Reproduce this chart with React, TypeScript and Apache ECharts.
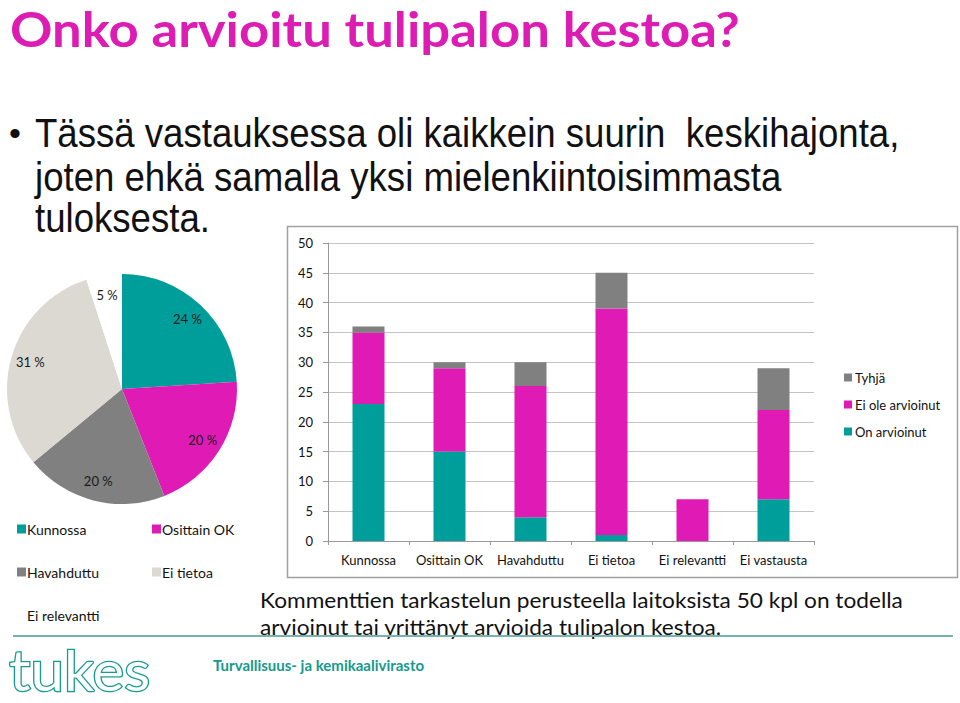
import React, { useEffect, useRef } from "react";
import * as echarts from "echarts";

const barCategories = ["Kunnossa", "Osittain OK", "Havahduttu", "Ei tietoa", "Ei relevantti", "Ei vastausta"];
const onArvioinut = [23, 15, 4, 1, 0, 7];
const eiOleArvioinut = [12, 14, 22, 38, 7, 15];
const tyhja = [1, 1, 4, 6, 0, 7];
const yTicks = { min: 0, max: 50, interval: 5 };

const pieNames = ["Kunnossa", "Osittain OK", "Havahduttu", "Ei tietoa", "Ei relevantti"];
const pieValues = [24, 20, 20, 31, 5];

const TEAL = "#009e9a";
const MAGENTA = "#e01bb5";
const GREY = "#808080";
const LIGHT = "#dcd9d3";
const pieColors = [TEAL, MAGENTA, GREY, LIGHT, "#ffffff"];

const FONT = "Lato, 'Open Sans', sans-serif";
const BODY = "40px 'Liberation Sans', Arial, sans-serif";

export default function App() {
  const ref = useRef<HTMLDivElement>(null);
  useEffect(() => {
    document.body.style.margin = "0";
    const chart = echarts.init(ref.current!, null, { renderer: "svg" });
    const txt = (text: string, x: number, y: number, font: string, fill: string, extra: any = {}) => ({
      type: "text",
      x,
      y,
      silent: true,
      ...extra,
      style: { text, font, fill, align: "left", textAlign: "left", verticalAlign: "middle", textVerticalAlign: "middle", ...(extra.style || {}) },
    });
    chart.setOption({
      animation: false,
      textStyle: { fontFamily: FONT },
      grid: { left: 328, top: 243, width: 486, height: 298, containLabel: false },
      xAxis: {
        type: "category",
        data: barCategories,
        axisLine: { lineStyle: { color: "#999" } },
        axisTick: { show: true, length: 4, lineStyle: { color: "#999" } },
        axisLabel: { color: "#111", fontSize: 13, fontFamily: FONT, margin: 12, interval: 0 },
      },
      yAxis: {
        type: "value",
        min: yTicks.min,
        max: yTicks.max,
        interval: yTicks.interval,
        axisLine: { show: true, lineStyle: { color: "#999" } },
        axisTick: { show: true, length: 5, lineStyle: { color: "#999" } },
        splitLine: { lineStyle: { color: "#c4c4c4" } },
        axisLabel: { color: "#111", fontSize: 13, fontFamily: FONT, margin: 15 },
      },
      legend: [
        {
          orient: "vertical",
          left: 839,
          top: 366,
          itemWidth: 8,
          itemHeight: 8,
          itemGap: 14,
          icon: "rect",
          textStyle: { fontSize: 13, color: "#111", fontFamily: FONT, padding: [0, 0, 0, -2] },
          data: ["Tyhjä", "Ei ole arvioinut", "On arvioinut"],
        },
        {
          orient: "vertical",
          left: 12,
          top: 517,
          itemWidth: 9,
          itemHeight: 9,
          itemGap: 29,
          icon: "rect",
          textStyle: { fontSize: 14, color: "#111", fontFamily: FONT, padding: [0, 0, 0, -4] },
          data: ["Kunnossa", "Havahduttu", "Ei relevantti"],
        },
        {
          orient: "vertical",
          left: 147,
          top: 517,
          itemWidth: 9,
          itemHeight: 9,
          itemGap: 29,
          icon: "rect",
          textStyle: { fontSize: 14, color: "#111", fontFamily: FONT, padding: [0, 0, 0, -4] },
          data: ["Osittain OK", "Ei tietoa"],
        },
      ],
      series: [
        {
          type: "bar",
          name: "On arvioinut",
          stack: "s",
          data: onArvioinut,
          barWidth: 32,
          itemStyle: { color: TEAL },
        },
        {
          type: "bar",
          name: "Ei ole arvioinut",
          stack: "s",
          data: eiOleArvioinut,
          barWidth: 32,
          itemStyle: { color: MAGENTA },
        },
        {
          type: "bar",
          name: "Tyhjä",
          stack: "s",
          data: tyhja,
          barWidth: 32,
          itemStyle: { color: GREY },
        },
        {
          type: "pie",
          name: "pie",
          center: [122, 389],
          radius: [0, 115],
          startAngle: 90,
          clockwise: true,
          silent: true,
          label: { show: false },
          labelLine: { show: false },
          data: pieNames.map((n, i) => ({ name: n, value: pieValues[i], itemStyle: { color: pieColors[i] } })),
        },
        {
          type: "pie",
          name: "pieLabels",
          center: [122, 389],
          radius: [70, 115],
          startAngle: 90,
          clockwise: true,
          silent: true,
          legendHoverLink: false,
          itemStyle: { color: "rgba(0,0,0,0)" },
          label: {
            show: true,
            position: "inside",
            color: "#1a1a1a",
            fontSize: 13,
            fontFamily: FONT,
            formatter: (p: any) => `${p.value} %`,
          },
          labelLine: { show: false },
          data: pieNames.map((n, i) => ({ name: "lbl" + i, value: pieValues[i] })),
        },
      ],
      graphic: [
        txt("Onko arvioitu tulipalon kestoa?", 10, 29, `bold 47px ${FONT}`, "#dd1cb4", { scaleX: 1.12 }),
        txt("•", 9, 133, "34px 'Liberation Sans', sans-serif", "#111"),
        txt("Tässä vastauksessa oli kaikkein suurin  keskihajonta,", 35, 133, BODY, "#111", { scaleX: 0.915 }),
        txt("joten ehkä samalla yksi mielenkiintoisimmasta", 35, 177, BODY, "#111", { scaleX: 0.915 }),
        txt("tuloksesta.", 35, 218, BODY, "#111", { scaleX: 0.915 }),
        {
          type: "rect",
          silent: true,
          z: -10,
          shape: { x: 287.5, y: 226.5, width: 670, height: 351 },
          style: { fill: "#ffffff", stroke: "#a0a0a0", lineWidth: 1.5 },
        },
        txt("Kommenttien tarkastelun perusteella laitoksista 50 kpl on todella", 260, 600, `22px ${FONT}`, "#111", { scaleX: 1.03 }),
        txt("arvioinut tai yrittänyt arvioida tulipalon kestoa.", 260, 627, `22px ${FONT}`, "#111", { scaleX: 1.03 }),
        {
          type: "line",
          silent: true,
          shape: { x1: 13, y1: 636, x2: 953, y2: 636 },
          style: { stroke: "#76b2b1", lineWidth: 2 },
        },
        txt("tukes", 9, 669, `56px 'Lato', sans-serif`, "#ffffff", {
          scaleX: 1.07,
          style: { stroke: "#179a90", lineWidth: 2.5 },
        }),
        txt("Turvallisuus- ja kemikaalivirasto", 213, 665, `bold 15px ${FONT}`, "#16998e"),
      ],
    });
    return () => chart.dispose();
  }, []);
  return <div ref={ref} style={{ width: 960, height: 703 }} />;
}
